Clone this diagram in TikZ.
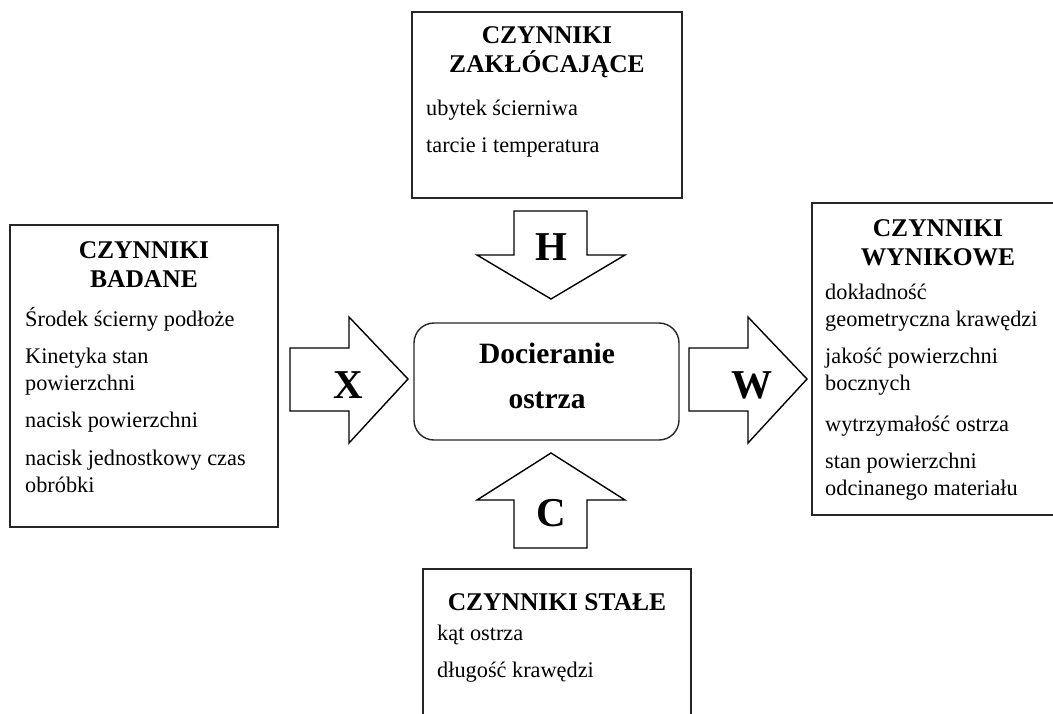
\documentclass[tikz,border=0pt]{standalone}
\usepackage{fontspec}
\setmainfont{Liberation Serif}
\begin{document}
\begin{tikzpicture}[x=1pt,y=-1pt,
  frame/.style={draw=black!85, line width=1.4pt, inner sep=0pt, outer sep=0pt, anchor=north west},
  blockarrow/.style={draw=black, line width=1.4pt, fill=white, line join=miter},
  heading/.style={font=\fontsize{25.5}{29}\selectfont\bfseries, inner sep=0pt, anchor=base},
  item/.style={font=\fontsize{22.3}{27}\selectfont, inner sep=0pt, anchor=base west},
  letter/.style={font=\fontsize{41}{45}\selectfont\bfseries, inner sep=0pt, anchor=base},
  proc/.style={font=\fontsize{29.5}{34}\selectfont\bfseries, inner sep=0pt, anchor=base},
]
\useasboundingbox (0,0) rectangle (1053,713);
\clip (0,0) rectangle (1053,713);

% factor boxes
\node[frame, minimum width=270pt, minimum height=186pt] (dist) at (412,12) {};
\node[frame, minimum width=268pt, minimum height=302pt] (inp) at (10,225) {};
\node[frame, minimum width=252pt, minimum height=312pt] (out) at (812,203) {};
\node[frame, minimum width=268pt, minimum height=170pt] (const) at (423,569) {};

% process box
\node[frame, rounded corners=20pt, minimum width=265pt, minimum height=117pt] (proc) at (414,323) {};

% disturbing factors
\node[heading] (d1) at (547,43) {CZYNNIKI};
\node[heading] (d2) at (547,72) {ZAKŁÓCAJĄCE};
\node[item] (d3) at (426,115) {ubytek ścierniwa};
\node[item] (d4) at (426,152) {tarcie i temperatura};

% studied factors
\node[heading] (i1) at (144,258) {CZYNNIKI};
\node[heading] (i2) at (144,287) {BADANE};
\node[item] (i3) at (25,326) {Środek ścierny podłoże};
\node[item] (i4) at (25,363) {Kinetyka stan};
\node[item] (i5) at (25,390) {powierzchni};
\node[item] (i6) at (25,427) {nacisk powierzchni};
\node[item] (i7) at (25,465) {nacisk jednostkowy czas};
\node[item] (i8) at (25,492) {obróbki};

% output factors
\node[heading] (o1) at (938,236) {CZYNNIKI};
\node[heading] (o2) at (938,265) {WYNIKOWE};
\node[item] (o3) at (825,299) {dokładność};
\node[item] (o4) at (825,326) {geometryczna krawędzi};
\node[item] (o5) at (825,363) {jakość powierzchni};
\node[item] (o6) at (825,390) {bocznych};
\node[item] (o7) at (825,431) {wytrzymałość ostrza};
\node[item] (o8) at (825,468) {stan powierzchni};
\node[item] (o9) at (825,495) {odcinanego materiału};

% constant factors
\node[heading] (c1) at (557,610) {CZYNNIKI STAŁE};
\node[item] (c2) at (437,640) {kąt ostrza};
\node[item] (c3) at (437,677) {długość krawędzi};

% process label
\node[proc] (p1) at (547,363) {Docieranie};
\node[proc] (p2) at (547,408) {ostrza};

% block arrows
\draw[blockarrow] (514,211) -- (587,211) -- (587,255) -- (625,255) -- (551,299)
  -- (477,255) -- (514,255) -- cycle;
\draw[blockarrow] (514,548) -- (587,548) -- (587,500) -- (625,500) -- (551,453)
  -- (477,500) -- (514,500) -- cycle;
\draw[blockarrow] (290,348) -- (349,348) -- (349,317) -- (408,379) -- (349,443)
  -- (349,411) -- (290,411) -- cycle;
\draw[blockarrow] (689,348) -- (748,348) -- (748,317) -- (807,379) -- (748,443)
  -- (748,411) -- (689,411) -- cycle;

\node[letter] (H) at (551,260) {H};
\node[letter] (C) at (551,526) {C};
\node[letter] (X) at (348,398) {X};
\node[letter] (W) at (752,398) {W};
\end{tikzpicture}
\end{document}
